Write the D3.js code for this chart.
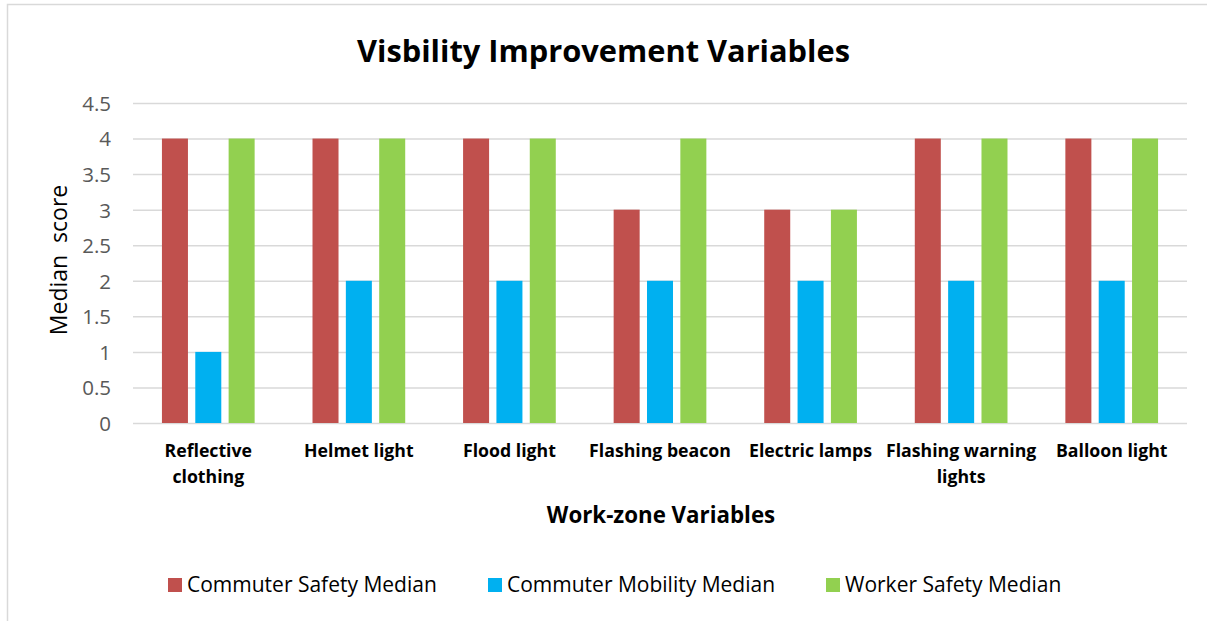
<!DOCTYPE html>
<html><head><meta charset="utf-8">
<script src="https://cdn.jsdelivr.net/npm/d3@7"></script>
<style>html,body{margin:0;padding:0;background:#fff;} svg{display:block;}</style>
</head><body>
<script>
const categories = [["Reflective","clothing"],["Helmet light"],["Flood light"],["Flashing beacon"],["Electric lamps"],["Flashing warning","lights"],["Balloon light"]];
const seriesNames = ["Commuter Safety Median","Commuter Mobility Median","Worker Safety Median"];
const commuterSafety = [4,4,4,3,3,4,4];
const commuterMobility = [1,2,2,2,2,2,2];
const workerSafety = [4,4,4,4,3,4,4];
const yTicks = [0,0.5,1,1.5,2,2.5,3,3.5,4,4.5];
const colors = ["#C0504D","#00B0F0","#92D050"];
const seriesValues = [commuterSafety, commuterMobility, workerSafety];

const W = 1207, H = 621;
const font = "'Open Sans', sans-serif";
const svg = d3.select("body").append("svg").attr("width", W).attr("height", H);
svg.append("rect").attr("x",7.5).attr("y",4.5).attr("width",1220).attr("height",640)
  .attr("fill","#fff").attr("stroke","#D9D9D9").attr("stroke-width",1.5);

const catKeys = categories.map(c => c.join(" "));
const x0 = d3.scaleBand().domain(catKeys).range([133,1187]).paddingInner(0).paddingOuter(0);
const groupW = 92.7;
const x1 = d3.scaleBand().domain(seriesNames).range([0,groupW]).paddingInner(0.22).paddingOuter(0);
const y = d3.scaleLinear().domain([0,4.5]).range([423,103]);

// gridlines
const yAxis = d3.axisLeft(y).tickValues(yTicks).tickSize(-(1187-133)).tickPadding(22).tickFormat(d => d3.format("")(d));
const gy = svg.append("g").attr("transform","translate(133,0)").call(yAxis);
gy.select(".domain").remove();
gy.selectAll(".tick line").attr("stroke","#D9D9D9").attr("stroke-width",1.5);
gy.selectAll(".tick text").attr("fill","#595959").attr("font-family",font).attr("font-size",20.5).attr("dy","0.36em");

// bars
const groups = svg.append("g").selectAll("g").data(catKeys).join("g")
  .attr("transform", d => `translate(${x0(d) + (x0.bandwidth()-groupW)/2},0)`);
groups.selectAll("rect").data((d,i) => seriesNames.map((s,j) => ({s, v: seriesValues[j][i], j})))
  .join("rect")
  .attr("x", d => x1(d.s)).attr("width", x1.bandwidth())
  .attr("y", d => y(d.v)).attr("height", d => y(0) - y(d.v))
  .attr("fill", d => colors[d.j]);

// x labels
const xl = svg.append("g").selectAll("text").data(categories).join("text")
  .attr("x", (d,i) => x0(catKeys[i]) + x0.bandwidth()/2)
  .attr("y", 457)
  .attr("text-anchor","middle").attr("font-family",font).attr("font-weight","bold")
  .attr("font-size",17.7).attr("fill","#000");
xl.selectAll("tspan").data(d => d).join("tspan")
  .attr("x", function(){ return this.parentNode.getAttribute("x"); })
  .attr("dy", (d,i) => i === 0 ? 0 : 26)
  .text(d => d);

// titles
svg.append("text").attr("x",603.5).attr("y",62).attr("text-anchor","middle")
  .attr("font-family",font).attr("font-weight","bold").attr("font-size",30.8).attr("fill","#000")
  .text("Visbility Improvement Variables");
svg.append("text").attr("x",661).attr("y",523).attr("text-anchor","middle")
  .attr("font-family",font).attr("font-weight","bold").attr("font-size",22.3).attr("fill","#000")
  .text("Work-zone Variables");
svg.append("text").attr("transform","translate(67,260) rotate(-90)").attr("text-anchor","middle")
  .attr("font-family",font).attr("font-size",23).attr("fill","#000")
  .style("white-space","pre")
  .text("Median  score");

// legend
const legX = [168, 488, 826];
const leg = svg.append("g").selectAll("g").data(seriesNames).join("g")
  .attr("transform", (d,i) => `translate(${legX[i]},578)`);
leg.append("rect").attr("width",14).attr("height",14).attr("fill",(d,i)=>colors[i]);
leg.append("text").attr("x",19).attr("y",14).attr("font-family",font).attr("font-size",21)
  .attr("fill","#000").text(d => d);
</script>
</body></html>
